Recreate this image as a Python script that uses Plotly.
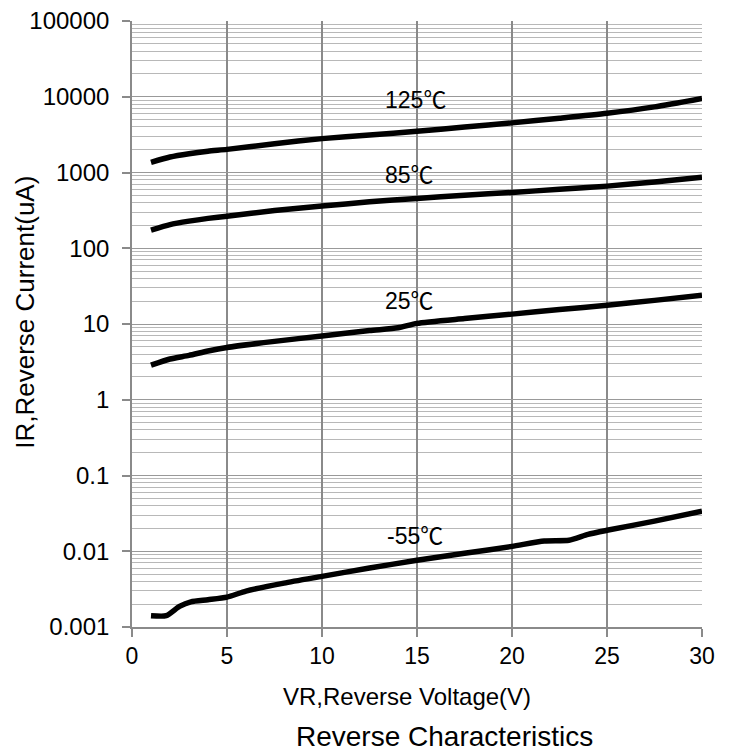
import math
import plotly.graph_objects as go

# ---- data (VR in V, IR in uA) ----
vr_125 = [1, 2, 3, 4, 5, 7.5, 10, 12.5, 15, 17.5, 20, 22.5, 25, 27.5, 30]
ir_125 = [1360, 1600, 1770, 1910, 2020, 2400, 2800, 3130, 3500, 3980, 4520, 5200, 6040, 7350, 9500]

vr_85 = [1, 2, 3, 4, 5, 7.5, 10, 12.5, 15, 17.5, 20, 22.5, 25, 27.5, 30]
ir_85 = [173, 205, 228, 248, 265, 315, 360, 410, 455, 500, 546, 600, 661, 750, 865]

vr_25 = [1, 2, 3, 4, 5, 7.5, 10, 12.5, 14, 15, 17.5, 20, 22.5, 25, 27.5, 30]
ir_25 = [2.86, 3.45, 3.85, 4.4, 4.9, 5.9, 6.95, 8.2, 8.9, 10.2, 11.8, 13.5, 15.5, 17.7, 20.5, 24.0]

vr_m55 = [1, 1.8, 2.5, 3.1, 4, 5, 6, 8, 10, 12.5, 15, 17.5, 20, 21.7, 23, 24, 25, 27.5, 30]
ir_m55 = [0.00141, 0.00141, 0.00187, 0.00215, 0.00229, 0.00248, 0.00298, 0.0038, 0.00466,
          0.0060, 0.0076, 0.0094, 0.0116, 0.0137, 0.0140, 0.0167, 0.0189, 0.0250, 0.0337]

temps = ["125", "85", "25", "-55"]
curves_x = [vr_125, vr_85, vr_25, vr_m55]
curves_y = [ir_125, ir_85, ir_25, ir_m55]
label_x = [14.9, 14.6, 14.6, 14.9]
label_y = [9600, 972, 21.1, 0.0171]

x_ticks = [0, 5, 10, 15, 20, 25, 30]
y_ticks = [0.001, 0.01, 0.1, 1, 10, 100, 1000, 10000, 100000]
y_ticktext = ["0.001", "0.01", "0.1", "1", "10", "100", "1000", "10000", "100000"]

FONT = "Liberation Sans"
DEG = "<span style=\"font-family:'Noto Sans CJK SC'\">℃</span>"

fig = go.Figure()
for t, xs, ys in zip(temps, curves_x, curves_y):
    fig.add_trace(go.Scatter(
        x=xs, y=ys, mode="lines", name=t + "℃",
        line=dict(color="black", width=5.5, shape="spline", smoothing=0.6),
        showlegend=False, hoverinfo="skip",
    ))

annotations = []
for t, lx, ly in zip(temps, label_x, label_y):
    annotations.append(dict(
        x=lx, y=math.log10(ly), xref="x", yref="y", text=t + DEG, showarrow=False,
        xanchor="center", yanchor="middle",
        font=dict(family=FONT, size=23, color="black"),
    ))

# y-axis title (placed as annotation so it can sit close to the tick labels)
annotations.append(dict(
    text="IR,Reverse Current(uA)", textangle=-90, x=-0.188, xref="paper", xanchor="center",
    y=0.52, yref="paper", yanchor="middle", showarrow=False,
    font=dict(family=FONT, size=26, color="black"),
))

# x-axis title
annotations.append(dict(
    text="VR,Reverse Voltage(V)", x=0.483, xref="paper", xanchor="center",
    y=-0.115, yref="paper", yanchor="middle", showarrow=False,
    font=dict(family=FONT, size=24, color="black"),
))

annotations.append(dict(
    text="Reverse Characteristics", x=0.548, xref="paper", xanchor="center",
    y=-0.18, yref="paper", yanchor="middle", showarrow=False,
    font=dict(family=FONT, size=28, color="black"),
))

fig.update_layout(
    width=734, height=755,
    margin=dict(l=132, r=32, t=21, b=128, autoexpand=False),
    paper_bgcolor="white", plot_bgcolor="white",
    font=dict(family=FONT, color="black"),
    annotations=annotations,
    xaxis=dict(
        range=[0, 30], tickmode="array", tickvals=x_ticks,
        showgrid=True, gridcolor="#8a8a8a", gridwidth=1.6,
        showline=True, linecolor="#8a8a8a", linewidth=1.6,
        ticks="outside", ticklen=8, tickcolor="#8a8a8a", tickwidth=1.6,
        tickfont=dict(family=FONT, size=23, color="black"),
        zeroline=False, automargin=False,
    ),
    yaxis=dict(
        type="log", range=[-3, 5], tickmode="array",
        tickvals=y_ticks, ticktext=y_ticktext,
        showgrid=True, gridcolor="#999999", gridwidth=1.4,
        showline=True, linecolor="#8a8a8a", linewidth=1.6,
        ticks="outside", ticklen=8, tickcolor="#8a8a8a", tickwidth=1.6,
        tickfont=dict(family=FONT, size=24, color="black"),
        ticklabelstandoff=8,
        zeroline=False, automargin=False,
        minor=dict(dtick="D1", showgrid=True, gridcolor="#b8b8b8", gridwidth=1.2, ticks=""),
    ),
)

fig.write_html("out.html", config={"displayModeBar": False},
               post_script="document.body.style.margin='0';")
